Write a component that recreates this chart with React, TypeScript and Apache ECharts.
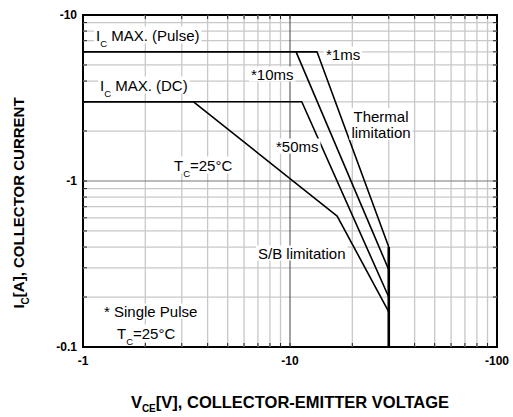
import React, { useEffect, useRef } from 'react';
import * as echarts from 'echarts';

// Axis ranges (magnitudes; labels shown negative as in PNP datasheet)
const X_RANGE = [1, 100];
const Y_RANGE = [0.1, 10];
const X_MINOR = [2, 3, 4, 5, 6, 7, 8, 9, 20, 30, 40, 50, 60, 70, 80, 90];
const X_MAJOR = [10];
const Y_MINOR = [0.2, 0.3, 0.4, 0.5, 0.6, 0.7, 0.8, 0.9, 2, 3, 4, 5, 6, 7, 8, 9];
const Y_MAJOR = [1];

// Safe operating area boundaries: [VCE (V), IC (A)]
const PULSE_1MS = [[1, 6], [13.5, 6], [30, 0.4]];
const PULSE_10MS = [[10.7, 6], [30, 0.292]];
const PULSE_50MS = [[1, 3], [11.4, 3], [30, 0.2]];
const DC_LIMIT = [[1, 3], [3.42, 3], [16.9, 0.614], [30, 0.163]];
const VCEO_LIMIT = [[30, 0.1], [30, 0.4]];

const FONT = 'Liberation Sans, Arial, Helvetica, sans-serif';

function gridSeries(values: number[], dir: 'v' | 'h', color: string, width: number) {
  return {
    type: 'custom',
    coordinateSystem: 'cartesian2d',
    silent: true,
    z: 1,
    data: values.map((v) => (dir === 'v' ? [v, 1] : [1, v])),
    renderItem: (params: any, api: any) => {
      const cs = params.coordSys;
      const tick = '#222';
      if (dir === 'v') {
        const x = api.coord([api.value(0), 1])[0];
        return {
          type: 'group',
          children: [
            { type: 'line', shape: { x1: x, y1: cs.y, x2: x, y2: cs.y + cs.height }, style: { stroke: color, lineWidth: width } },
            { type: 'line', shape: { x1: x, y1: cs.y, x2: x, y2: cs.y + 4 }, style: { stroke: tick, lineWidth: 1 } },
            { type: 'line', shape: { x1: x, y1: cs.y + cs.height - 4, x2: x, y2: cs.y + cs.height }, style: { stroke: tick, lineWidth: 1 } },
          ],
        };
      }
      const y = api.coord([1, api.value(1)])[1];
      return {
        type: 'group',
        children: [
          { type: 'line', shape: { x1: cs.x, y1: y, x2: cs.x + cs.width, y2: y }, style: { stroke: color, lineWidth: width } },
          { type: 'line', shape: { x1: cs.x, y1: y, x2: cs.x + 4, y2: y }, style: { stroke: tick, lineWidth: 1 } },
          { type: 'line', shape: { x1: cs.x + cs.width - 4, y1: y, x2: cs.x + cs.width, y2: y }, style: { stroke: tick, lineWidth: 1 } },
        ],
      };
    },
  };
}

function curve(name: string, data: number[][], width = 1.6) {
  return {
    name,
    type: 'line',
    data,
    symbol: 'none',
    z: 5,
    silent: true,
    lineStyle: { color: '#000', width },
  };
}

const richBase = {
  m: { fontSize: 15, fontFamily: FONT, lineHeight: 17, fill: '#000' },
  s: { fontSize: 9.5, fontFamily: FONT, height: 9, lineHeight: 17, padding: [16, 0, 0, 0], fill: '#000' },
};

function label(text: string, x: number, y: number) {
  return {
    type: 'text',
    x,
    y,
    z: 50,
    silent: true,
    style: {
      text,
      rich: richBase,
      font: `15px ${FONT}`,
      fill: '#000',
      textAlign: 'left',
      textVerticalAlign: 'middle',
      backgroundColor: '#fff',
      padding: [0, 2, 0, 2],
    },
  };
}

export default function App() {
  const ref = useRef<HTMLDivElement>(null);
  useEffect(() => {
    document.body.style.margin = '0';
    const chart = echarts.init(ref.current!, undefined, { renderer: 'svg' });
    const fmt = (v: number) => '-' + Number(v.toPrecision(3));
    const axisLabel = { color: '#000', fontSize: 12, fontWeight: 'bold', fontFamily: FONT, formatter: fmt };
    chart.setOption({
      animation: false,
      backgroundColor: '#fff',
      grid: { left: 83, top: 15, width: 414, height: 332, show: true, borderColor: '#000', borderWidth: 2, backgroundColor: 'transparent' },
      xAxis: {
        type: 'log', logBase: 10, min: X_RANGE[0], max: X_RANGE[1],
        axisLine: { show: false }, axisTick: { show: false }, splitLine: { show: false },
        axisLabel: { ...axisLabel, margin: 8 },
      },
      yAxis: {
        type: 'log', logBase: 10, min: Y_RANGE[0], max: Y_RANGE[1],
        axisLine: { show: false }, axisTick: { show: false }, splitLine: { show: false },
        axisLabel: { ...axisLabel, margin: 6 },
      },
      series: [
        gridSeries(X_MINOR, 'v', '#c8c8c8', 1.3),
        gridSeries(Y_MINOR, 'h', '#c8c8c8', 1.3),
        gridSeries(X_MAJOR, 'v', '#444444', 1),
        gridSeries(Y_MAJOR, 'h', '#777777', 1.2),
        curve('1ms', PULSE_1MS),
        curve('10ms', PULSE_10MS),
        curve('50ms', PULSE_50MS),
        curve('DC', DC_LIMIT),
        curve('VCEO', VCEO_LIMIT, 2.6),
      ],
      graphic: [
        label('{m|I}{s|C}{m| MAX. (Pulse)}', 94, 35),
        label('{m|I}{s|C}{m| MAX. (DC)}', 98, 85),
        label('{m|T}{s|C}{m|=25°C}', 172, 165),
        label('*1ms', 324, 54),
        label('*10ms', 249, 74),
        {
          type: 'text', x: 381, y: 124, z: 50, silent: true,
          style: {
            text: 'Thermal\nlimitation', font: `15px ${FONT}`, fill: '#000',
            textAlign: 'center', textVerticalAlign: 'middle', backgroundColor: '#fff',
            padding: [0, 2, 0, 2], lineHeight: 16,
          },
        },
        label('*50ms', 274, 146),
        label('S/B limitation', 256, 253),
        label('* Single Pulse', 102, 311),
        label('{m|T}{s|C}{m|=25°C}', 115, 333),
        {
          type: 'text', x: 290, y: 402, z: 50, silent: true,
          style: {
            text: '{b|V}{bs|CE}{b|[V], COLLECTOR-EMITTER VOLTAGE}',
            textAlign: 'center', textVerticalAlign: 'middle',
            rich: {
              b: { fontSize: 16.5, fontWeight: 'bold', fontFamily: FONT, lineHeight: 18, fill: '#000' },
              bs: { fontSize: 10, fontWeight: 'bold', fontFamily: FONT, height: 10, lineHeight: 18, padding: [13, 0, 0, 0], fill: '#000' },
            },
          },
        },
        {
          type: 'text', x: 18, y: 203, z: 50, silent: true, rotation: Math.PI / 2,
          style: {
            text: '{b|I}{bs|C}{b|[A], COLLECTOR CURRENT}',
            textAlign: 'center', textVerticalAlign: 'middle',
            rich: {
              b: { fontSize: 15, fontWeight: 'bold', fontFamily: FONT, lineHeight: 18, fill: '#000' },
              bs: { fontSize: 10, fontWeight: 'bold', fontFamily: FONT, height: 10, lineHeight: 18, padding: [14, 0, 0, 0], fill: '#000' },
            },
          },
        },
      ],
    });
    return () => chart.dispose();
  }, []);
  return <div ref={ref} style={{ width: 513, height: 417 }} />;
}
